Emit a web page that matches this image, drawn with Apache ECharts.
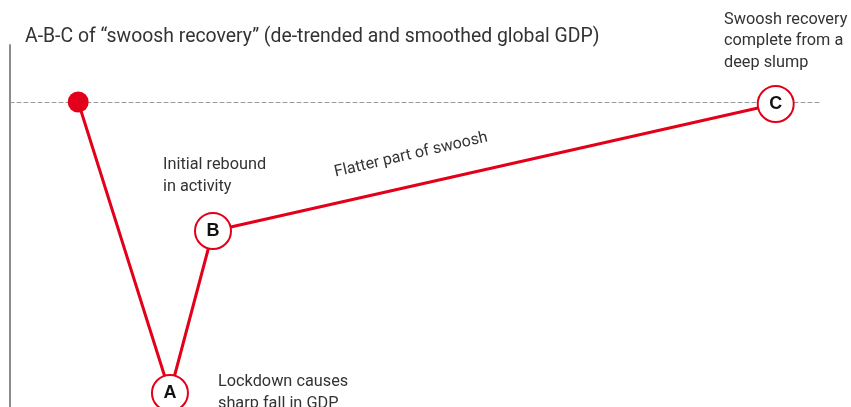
<!DOCTYPE html>
<html>
<head>
<meta charset="utf-8">
<script src="https://cdn.jsdelivr.net/npm/echarts@6/dist/echarts.min.js"></script>
<style>html,body{margin:0;padding:0;background:#fff;}#c{width:851px;height:407px;}</style>
</head>
<body>
<div id="c"></div>
<script>
// Data
const pointNames = ['Start', 'A', 'B', 'C'];
const timeValues = [8.4, 19.7, 25.0, 94.3];
const gdpValues = [0, -29.1, -12.9, -0.2];
const subtitleText = 'A-B-C of \u201cswoosh recovery\u201d (de-trended and smoothed global GDP)';
const noteB = ['Initial rebound', 'in activity'];
const noteA = ['Lockdown causes', 'sharp fall in GDP'];
const noteC = ['Swoosh recovery', 'complete from a', 'deep slump'];
const noteLine = 'Flatter part of swoosh';

const RED = '#e2001a';
const FONT = 'Roboto, "Liberation Sans", sans-serif';

const chart = echarts.init(document.getElementById('c'));
const seriesData = pointNames.map((n, i) => {
  const first = i === 0;
  return {
    name: n,
    value: [timeValues[i], gdpValues[i]],
    symbolSize: first ? 21 : 36,
    itemStyle: first ? { color: RED, borderWidth: 0 } : { color: '#fff', borderColor: RED, borderWidth: 2 },
    label: first ? { show: false } : {
      show: true, position: 'inside', formatter: '{b}',
      color: '#111', fontSize: 18, fontWeight: 'bold', fontFamily: '"Liberation Sans", Arial, sans-serif'
    }
  };
});

const textStyle = { fill: '#333', fontSize: 16.3, fontFamily: FONT, lineHeight: 22 };

chart.setOption({
  animation: false,
  grid: { left: 10, right: 29, top: 45, bottom: 0, containLabel: false },
  xAxis: {
    type: 'value', min: 0, max: 100,
    axisLine: { show: true, onZero: true, lineStyle: { color: '#999', width: 1, type: [4, 3] } },
    axisTick: { show: false }, axisLabel: { show: false }, splitLine: { show: false }
  },
  yAxis: {
    type: 'value', min: -30.5, max: 5.7,
    axisLine: { show: true, lineStyle: { color: '#8c8c8c', width: 2 } },
    axisTick: { show: false }, axisLabel: { show: false }, splitLine: { show: false }
  },
  series: [{
    type: 'line',
    data: seriesData,
    symbol: 'circle',
    showSymbol: true,
    lineStyle: { color: RED, width: 3 },
    z: 3
  }],
  graphic: [
    { type: 'text', left: 25, top: 28, style: { text: subtitleText, fill: '#333', fontSize: 19.4, fontFamily: FONT } },
    { type: 'text', x: 163, y: 154, style: Object.assign({ text: noteB.join('\n') }, textStyle) },
    { type: 'text', x: 218, y: 371, style: Object.assign({ text: noteA.join('\n') }, textStyle) },
    { type: 'text', x: 724, y: 9, style: Object.assign({ text: noteC.join('\n') }, textStyle, { lineHeight: 21.5 }) },
    { type: 'text', x: 411, y: 155, rotation: 13 * Math.PI / 180,
      style: { text: noteLine, fill: '#333', fontSize: 16, fontFamily: FONT, align: 'center', verticalAlign: 'middle' } }
  ]
});
</script>
</body>
</html>
